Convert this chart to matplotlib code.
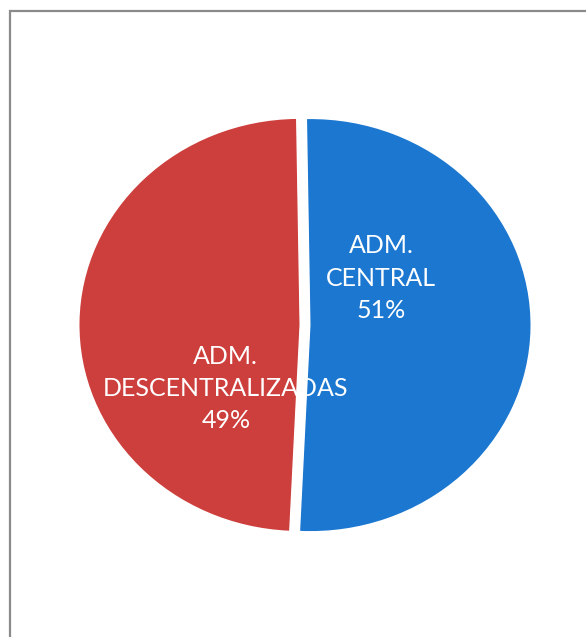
import numpy as np
import matplotlib.pyplot as plt
from matplotlib.lines import Line2D

# data
labels = ['ADM.\nCENTRAL', 'ADM.\nDESCENTRALIZADAS']
values = [51, 49]
colors = ['#1B77D0', '#CD3F3C']
label_pos = [(0.345, 0.228), (-0.36, -0.31)]

fig = plt.figure(figsize=(5.86, 6.37), dpi=100)
fig.patch.set_facecolor('white')

# frame: only the top and left edges show (picture is cropped)
W, H = 586.0, 637.0
fig.lines.append(Line2D([9.5/W, 1], [1 - 10.5/H, 1 - 10.5/H], transform=fig.transFigure,
                        color='#8a8a8a', lw=1.6, solid_capstyle='butt'))
fig.lines.append(Line2D([10/W, 10/W], [0, 1 - 10/H], transform=fig.transFigure,
                        color='#8a8a8a', lw=1.6, solid_capstyle='butt'))

# x radius ~220px, y radius ~206px, centre ~(305, 325)
ax = fig.add_axes([85/W, 1 - 531/H, 440/W, 412/H])
wedges, _ = ax.pie(values, colors=colors, startangle=90.9, counterclock=False,
                   explode=[0.025, 0.025], radius=1.0,
                   wedgeprops=dict(linewidth=0))
ax.set_aspect('auto')
ax.set_xlim(-1, 1)
ax.set_ylim(-1, 1)
ax.axis('off')

for lab, v, (x, y) in zip(labels, values, label_pos):
    ax.text(x, y, '%s\n%d%%' % (lab, v), ha='center', va='center',
            color='white', fontsize=18, family='Lato', linespacing=1.48,
            zorder=3)

# the gap between slices runs over the label text, as in the original
for ang in (wedges[0].theta1, wedges[0].theta2):
    a = np.radians(ang)
    ax.plot([0, 1.05 * np.cos(a)], [0, 1.05 * np.sin(a)], color='white',
            lw=7, solid_capstyle='butt', zorder=4)

fig.savefig('out.png', dpi=100)
